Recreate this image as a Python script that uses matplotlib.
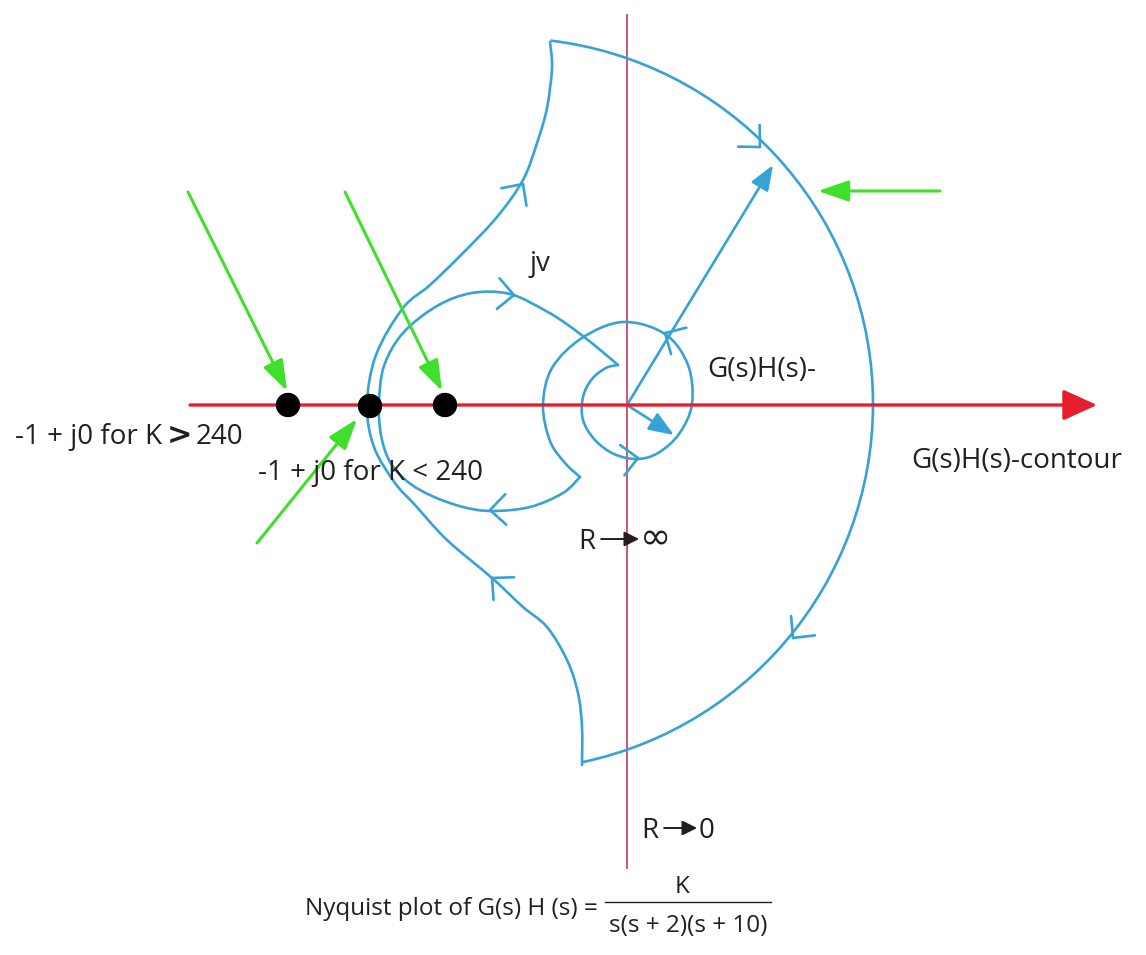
import numpy as np
import matplotlib
matplotlib.use("Agg")
import matplotlib.pyplot as plt
from matplotlib.path import Path
from matplotlib.patches import PathPatch, Arc, FancyArrowPatch, Circle

# ---------------- sketch data (pixel coordinates, y downwards) ----------------
origin = (627, 405)
real_axis_x = [190, 1097]
imag_axis_y = [15, 868]

outer_arc_center = (507, 404)
outer_arc_radius = 366
outer_arc_angles = [-83.2, 78.2]

left_outer_curve = [(582, 765), (582, 727), (578, 693), (567, 660), (547, 627), (523, 607),
                    (492, 578), (447, 540), (415, 505), (395, 483), (374, 447), (367, 405),
                    (376, 355), (403, 308), (430, 285), (463, 253), (497, 217), (523, 180),
                    (537, 143), (547, 108), (552, 68), (550, 42)]

inner_circle_curve = [(618, 365), (606, 368), (592, 379), (583, 397), (583, 420), (595, 440),
                      (614, 454), (637, 459), (658, 453), (679, 434), (692, 404), (688, 365),
                      (665, 334), (623, 322), (582, 338), (552, 368), (543, 405), (550, 441),
                      (565, 463), (580, 477)]

inner_return_curve = [(580, 477), (563, 493), (530, 507), (492, 511), (463, 507), (432, 496),
                      (408, 482), (390, 462), (381, 435), (379, 403), (384, 366), (403, 333),
                      (437, 306), (472, 293), (510, 294), (546, 311), (568, 325), (593, 344),
                      (618, 365)]

radial_arrow_tips = [(773, 165), (674, 435)]

chevron_tips = [(523, 184), (492, 578), (760, 147), (793, 638), (514, 295), (490, 510),
                (638, 458), (665, 333)]
chevron_dirs = [-55, -138, 45, 129, 5, 178, -8, -150]

green_starts = [(188, 192), (345, 192), (257, 543), (940, 191)]
green_ends = [(287, 391), (442, 391), (357, 419), (818, 191)]

point_x = [288, 370, 445]
point_y = [405, 406, 405]

label_jv = "jv"
label_ghs = "G(s)H(s)-"
label_contour = "G(s)H(s)-contour"
label_k_gt = ["-1 + j0 for K", ">", "240"]
label_k_lt = "-1 + j0 for K < 240"
label_r_inf = ["R", "\u221e"]
label_r_zero = ["R", "0"]
caption_text = "Nyquist plot of G(s) H (s) ="
caption_num = "K"
caption_den = "s(s + 2)(s + 10)"

# ---------------- styling ----------------
BLUE = "#36a2d6"
RED = "#e5202c"
VRED = "#d2456a"
GREEN = "#3fe02a"
TXT = "#231f20"
FONT = ["Open Sans", "DejaVu Sans"]
FS = 20
FS_CAP = 17.5

W, H = 1146, 955
fig = plt.figure(figsize=(W / 100, H / 100), dpi=100)
ax = fig.add_axes([0, 0, 1, 1])
ax.set_xlim(0, W)
ax.set_ylim(H, 0)
ax.axis("off")


def smooth_path(pts):
    P = np.asarray(pts, dtype=float)
    n = len(P)
    ext = np.vstack([P[0], P, P[-1]])
    verts = [P[0]]
    codes = [Path.MOVETO]
    for i in range(n - 1):
        p0, p1, p2, p3 = ext[i], ext[i + 1], ext[i + 2], ext[i + 3]
        c1 = p1 + (p2 - p0) / 6.0
        c2 = p2 - (p3 - p1) / 6.0
        verts += [c1, c2, p2]
        codes += [Path.CURVE4] * 3
    return Path(verts, codes)


LW = 1.9
for curve in (left_outer_curve, inner_circle_curve, inner_return_curve):
    ax.add_patch(PathPatch(smooth_path(curve), fill=False, ec=BLUE, lw=LW,
                           capstyle="round", joinstyle="round", zorder=3))

ax.add_patch(Arc(outer_arc_center, 2 * outer_arc_radius, 2 * outer_arc_radius,
                 theta1=outer_arc_angles[0], theta2=outer_arc_angles[1],
                 ec=BLUE, lw=LW, zorder=3))

# radial arrows from the origin
for tip in radial_arrow_tips:
    ax.add_patch(FancyArrowPatch(origin, tip, arrowstyle="-|>,head_length=0.9,head_width=0.35",
                                 mutation_scale=17, color=BLUE, lw=LW, shrinkA=0, shrinkB=0,
                                 zorder=4))

# open chevrons along the contours
ARM = 22
HALF = 44
for (tx, ty), d in zip(chevron_tips, chevron_dirs):
    for s in (-1, 1):
        a = np.deg2rad(d + 180 + s * HALF)
        ax.plot([tx, tx + ARM * np.cos(a)], [ty, ty + ARM * np.sin(a)],
                color=BLUE, lw=LW, solid_capstyle="round", zorder=4)

# axes
ax.plot([origin[0], origin[0]], imag_axis_y, color=VRED, lw=1.3, zorder=2)
ax.add_patch(FancyArrowPatch((real_axis_x[0], origin[1]), (real_axis_x[1], origin[1]),
                             arrowstyle="-|>,head_length=1.1,head_width=0.5",
                             mutation_scale=19, color=RED, lw=2.4, shrinkA=0, shrinkB=0,
                             zorder=5))

# green pointer arrows
for s, e in zip(green_starts, green_ends):
    ax.add_patch(FancyArrowPatch(s, e, arrowstyle="-|>,head_length=1.1,head_width=0.38",
                                 mutation_scale=17, color=GREEN, lw=2.2, shrinkA=0,
                                 shrinkB=0, zorder=6))

# critical points
for x, y in zip(point_x, point_y):
    ax.add_patch(Circle((x, y), 11.5, color="black", zorder=7))

# ---------------- text ----------------
renderer = fig.canvas.get_renderer()
tk = dict(family=FONT, fontsize=FS, color=TXT, zorder=8)
ax.text(530, 271, label_jv, ha="left", va="baseline", **tk)
ax.text(707, 377, label_ghs, ha="left", va="baseline", **tk)
ax.text(911, 468, label_contour, ha="left", va="baseline", **tk)
ax.text(258, 480, label_k_lt, ha="left", va="baseline", **tk)


def pieces(x, y, parts, gaps, styles):
    for p, g, st in zip(parts, gaps, styles):
        kw = dict(tk)
        kw.update(st)
        t = ax.text(x, y, p, ha="left", va="baseline", **kw)
        x += t.get_window_extent(renderer).width + g


pieces(15, 444, label_k_gt, [5, 3, 0],
       [{}, dict(fontweight="bold", family=["DejaVu Sans"], fontsize=FS + 2), {}])


def arrow_label(x, y, parts, arrow_len, second_style):
    t = ax.text(x, y, parts[0], ha="left", va="baseline", **tk)
    x0 = x + t.get_window_extent(renderer).width + 6
    ax.add_patch(FancyArrowPatch((x0, y - 10), (x0 + arrow_len, y - 10),
                                 arrowstyle="-|>,head_length=1.0,head_width=0.5",
                                 mutation_scale=9, color=TXT, lw=1.4, shrinkA=0, shrinkB=0,
                                 zorder=8))
    kw = dict(tk)
    kw.update(second_style)
    ax.text(x0 + arrow_len + 1, y, parts[1], ha="left", va="baseline", **kw)


arrow_label(578, 549, label_r_inf, 38, dict(family=["DejaVu Sans"], fontsize=27))
arrow_label(641, 838, label_r_zero, 33, {})

ck = dict(family=FONT, fontsize=FS_CAP, color=TXT)
ax.text(598, 915, caption_text, ha="right", va="baseline", **ck)
ax.text(682, 893, caption_num, ha="center", va="baseline", **ck)
ax.text(688, 932, caption_den, ha="center", va="baseline", **ck)
ax.plot([605, 771], [902, 902], color=TXT, lw=1.0)

fig.savefig("out.png", dpi=100)
